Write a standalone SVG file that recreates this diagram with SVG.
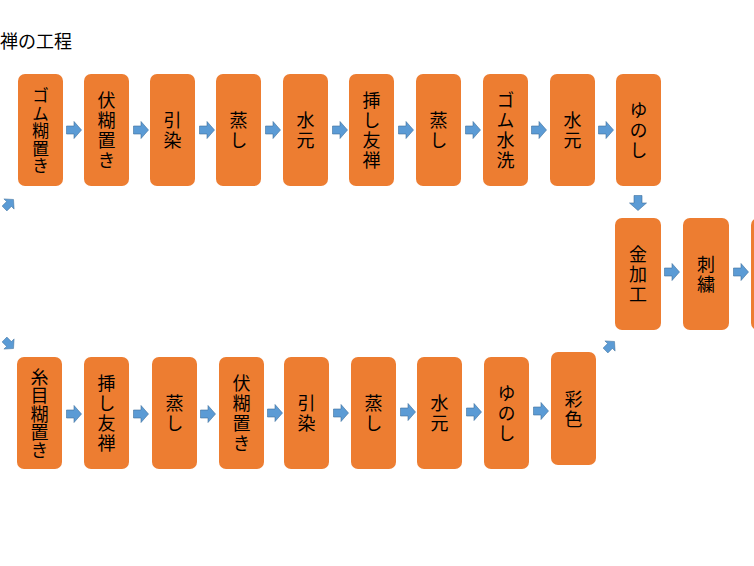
<svg xmlns="http://www.w3.org/2000/svg" xmlns:xlink="http://www.w3.org/1999/xlink" width="754" height="566" viewBox="0 0 754 566">
<style>
.box{fill:#ED7D31;}
.t{font-family:"Noto Sans CJK JP","Noto Sans CJK SC",sans-serif;font-size:18px;fill:#000;text-anchor:middle;writing-mode:vertical-rl;text-orientation:upright;letter-spacing:2px;}
.s{font-size:17px;letter-spacing:0.6px;}
.m{letter-spacing:0.4px;}
.title{font-family:"Noto Sans CJK JP",sans-serif;font-size:18px;fill:#000;}
.ar{fill:#5B9BD5;stroke:#41719C;stroke-width:0.6;}
</style>
<defs>
<path id="arw" class="ar" d="M-7.5,-4 H0 V-8.5 L7.5,0 L0,8.5 V4 H-7.5 Z"/>
</defs>
<rect width="754" height="566" fill="#fff"/>
<text class="title" x="0" y="48">禅の工程</text>

<g id="connectors">
<use xlink:href="#arw" transform="translate(74,130)"/>
<use xlink:href="#arw" transform="translate(141,130)"/>
<use xlink:href="#arw" transform="translate(207,130)"/>
<use xlink:href="#arw" transform="translate(273,130)"/>
<use xlink:href="#arw" transform="translate(340,130)"/>
<use xlink:href="#arw" transform="translate(406,130)"/>
<use xlink:href="#arw" transform="translate(473,130)"/>
<use xlink:href="#arw" transform="translate(539,130)"/>
<use xlink:href="#arw" transform="translate(606,130)"/>
<use xlink:href="#arw" transform="translate(638,203) rotate(90)"/>
<use xlink:href="#arw" transform="translate(672,272)"/>
<use xlink:href="#arw" transform="translate(741,272)"/>
<use xlink:href="#arw" transform="translate(9,204) rotate(-45) scale(0.85)"/>
<use xlink:href="#arw" transform="translate(9,344) rotate(45) scale(0.85)"/>
<use xlink:href="#arw" transform="translate(610,346) rotate(-45) scale(0.85)"/>
<use xlink:href="#arw" transform="translate(74,414)"/>
<use xlink:href="#arw" transform="translate(141,414)"/>
<use xlink:href="#arw" transform="translate(208,414)"/>
<use xlink:href="#arw" transform="translate(275,413)"/>
<use xlink:href="#arw" transform="translate(341,413)"/>
<use xlink:href="#arw" transform="translate(408,412)"/>
<use xlink:href="#arw" transform="translate(474,412)"/>
<use xlink:href="#arw" transform="translate(541,411)"/>
</g>

<g id="n1"><rect class="box" x="18" y="74" width="45" height="112" rx="7"/><text class="t s" x="40.5" y="131">ゴム糊置き</text></g>
<g id="n2"><rect class="box" x="84" y="74" width="45" height="112" rx="7"/><text class="t" x="106.5" y="131">伏糊置き</text></g>
<g id="n3"><rect class="box" x="150" y="74" width="45" height="112" rx="7"/><text class="t" x="172.5" y="131">引染</text></g>
<g id="n4"><rect class="box" x="216" y="74" width="45" height="112" rx="7"/><text class="t" x="238.5" y="131">蒸し</text></g>
<g id="n5"><rect class="box" x="283" y="74" width="45" height="112" rx="7"/><text class="t" x="305.5" y="131">水元</text></g>
<g id="n6"><rect class="box" x="349" y="74" width="45" height="112" rx="7"/><text class="t" x="371.5" y="131">挿し友禅</text></g>
<g id="n7"><rect class="box" x="416" y="74" width="45" height="112" rx="7"/><text class="t" x="438.5" y="131">蒸し</text></g>
<g id="n8"><rect class="box" x="483" y="74" width="45" height="112" rx="7"/><text class="t" x="505.5" y="131">ゴム水洗</text></g>
<g id="n9"><rect class="box" x="550" y="74" width="45" height="112" rx="7"/><text class="t" x="572.5" y="131">水元</text></g>
<g id="n10"><rect class="box" x="616" y="74" width="45" height="112" rx="7"/><text class="t" x="638.5" y="131">ゆのし</text></g>

<g id="n11"><rect class="box" x="615" y="218" width="46" height="112" rx="7"/><text class="t" x="638" y="275">金加工</text></g>
<g id="n12"><rect class="box" x="683" y="218" width="46" height="112" rx="7"/><text class="t" x="706" y="275">刺繍</text></g>
<g id="n13"><rect class="box" x="751" y="218" width="46" height="112" rx="7"/></g>

<g id="b1"><rect class="box" x="17" y="357" width="45" height="112" rx="7"/><text class="t m" x="39.5" y="414">糸目糊置き</text></g>
<g id="b2"><rect class="box" x="84" y="357" width="45" height="112" rx="7"/><text class="t" x="106.5" y="414">挿し友禅</text></g>
<g id="b3"><rect class="box" x="152" y="357" width="45" height="112" rx="7"/><text class="t" x="174.5" y="414">蒸し</text></g>
<g id="b4"><rect class="box" x="219" y="357" width="45" height="112" rx="7"/><text class="t" x="241.5" y="414">伏糊置き</text></g>
<g id="b5"><rect class="box" x="284" y="357" width="45" height="112" rx="7"/><text class="t" x="306.5" y="414">引染</text></g>
<g id="b6"><rect class="box" x="351" y="357" width="45" height="112" rx="7"/><text class="t" x="373.5" y="414">蒸し</text></g>
<g id="b7"><rect class="box" x="417" y="357" width="45" height="112" rx="7"/><text class="t" x="439.5" y="414">水元</text></g>
<g id="b8"><rect class="box" x="484" y="357" width="45" height="112" rx="7"/><text class="t" x="506.5" y="414">ゆのし</text></g>
<g id="b9"><rect class="box" x="551" y="352" width="45" height="113" rx="7"/><text class="t" x="573.5" y="410">彩色</text></g>
</svg>
